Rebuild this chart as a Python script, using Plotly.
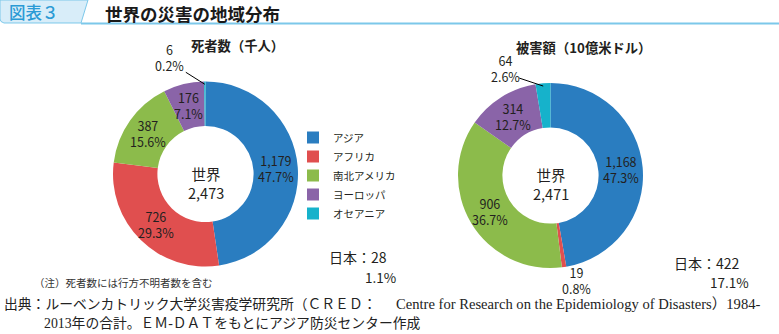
import math
import plotly.graph_objects as go

W, H = 779, 334

# ---------------- data ----------------
regions = ["アジア", "アフリカ", "南北アメリカ", "ヨーロッパ", "オセアニア"]
colors = ["#2A7DC0", "#E04F4F", "#8CBB4B", "#8A64A8", "#16B2CB"]

deaths = [1179, 726, 387, 176, 6]
deaths_pct = [47.7, 29.3, 15.6, 7.1, 0.2]
deaths_total = 2473
deaths_japan = 28
deaths_japan_pct = 1.1

damage = [1168, 19, 906, 314, 64]
damage_pct = [47.3, 0.8, 36.7, 12.7, 2.6]
damage_total = 2471
damage_japan = 422
damage_japan_pct = 17.1

title_main = "世界の災害の地域分布"
title_deaths = "死者数（千人）"
title_damage = "被害額（10億米ドル）"
note = "（注）死者数には行方不明者数を含む"
source1a = "出典：ルーベンカトリック大学災害疫学研究所（ＣＲＥＤ："
source1b = "Centre for Research on the Epidemiology of Disasters）1984-"
source2 = "2013年の合計。ＥＭ-ＤＡＴをもとにアジア防災センター作成"

# ---------------- layout helpers ----------------
FONT = "Noto Sans CJK JP"
SERIF = "Liberation Serif, Noto Sans CJK JP"
TXT = "#231F20"
HOLE = 0.52


def X(px):
    return px / W


def Y(py):
    return 1 - py / H


P1 = dict(cx=205.5, cy=174.0, r=92.5)
P2 = dict(cx=550.5, cy=175.5, r=92.5)


def domain(p):
    return dict(x=[X(p["cx"] - p["r"]), X(p["cx"] + p["r"])],
                y=[Y(p["cy"] + p["r"]), Y(p["cy"] - p["r"])])


fig = go.Figure()
fig.add_trace(go.Pie(labels=regions, values=deaths, hole=HOLE, sort=False,
                     direction="clockwise", rotation=0, textinfo="none",
                     marker=dict(colors=colors, line=dict(width=0)),
                     domain=domain(P1), legend="legend", name="死者数"))
fig.add_trace(go.Pie(labels=regions, values=damage, hole=HOLE, sort=False,
                     direction="clockwise", rotation=0, textinfo="none",
                     marker=dict(colors=colors, line=dict(width=0)),
                     domain=domain(P2), legend="legend2", name="被害額"))

annotations = []
shapes = []


def ann(px, py, text, size, xanchor="center", color=TXT, family=FONT, weight=None, **kw):
    f = dict(family=family, size=size, color=color)
    if weight:
        f["weight"] = weight
    annotations.append(dict(x=X(px), y=Y(py), xref="paper", yref="paper",
                            text=text, showarrow=False, xanchor=xanchor,
                            yanchor="middle", align=xanchor if xanchor != "center" else "center",
                            font=f, **kw))


def slice_labels(values, pcts, p, outside):
    total = sum(values)
    cum = 0.0
    for i, (v, pc) in enumerate(zip(values, pcts)):
        a0 = cum / total * 360
        cum += v
        a1 = cum / total * 360
        mid = math.radians((a0 + a1) / 2)
        text = f"{v:,}<br>{pc:.1f}%"
        if i in outside:
            dx, dy, line = outside[i]
            rr = p["r"] * 0.97
            tx = p["cx"] + rr * math.sin(mid)
            ty = p["cy"] - rr * math.cos(mid)
            lx, ly = tx + dx, ty + dy
            ann(lx, ly, text, 12.5)
            if line:
                sx, sy = line
                shapes.append(dict(type="line", xref="paper", yref="paper",
                                   x0=X(lx + sx), y0=Y(ly + sy), x1=X(tx), y1=Y(ty),
                                   line=dict(color="#000000", width=1)))
        else:
            rl = (p["r"] + HOLE * p["r"]) / 2
            ann(p["cx"] + rl * math.sin(mid), p["cy"] - rl * math.cos(mid),
                text, 12.5)


slice_labels(deaths, deaths_pct, P1, {4: (-35, -27, (16, 15))})
slice_labels(damage, damage_pct, P2, {4: (-38, -18, (14, 10)), 1: (13, 16, None)})

# centre texts
ann(P1["cx"], P1["cy"] + 9, f"世界<br>{deaths_total:,}", 14.5)
ann(P2["cx"], P2["cy"] + 8.5, f"世界<br>{damage_total:,}", 14.5)

# pie titles
ann(237, 46, f"<b>{title_deaths}</b>", 13.3)
ann(583, 47, f"<b>{title_damage}</b>", 13.3)

# Japan
ann(327, 257, f"日本：{deaths_japan}", 14, xanchor="left")
ann(363, 277, f"{deaths_japan_pct:.1f}%", 13.5, xanchor="left")
ann(672, 263, f"日本：{damage_japan}", 14, xanchor="left")
ann(708, 282, f"{damage_japan_pct:.1f}%", 13.5, xanchor="left")

# header
ann(7, 12, "図表３", 16.5, xanchor="left", color="#2A9AD5", weight=500)
ann(103, 13, f"<b>{title_main}</b>", 17.5, xanchor="left", color="#1A1A1A")

# note and source
ann(32, 282, note, 10.5, xanchor="left", color="#333333")
ann(2, 304, source1a, 13.8, xanchor="left", family=SERIF, color="#222222")
ann(762, 304, source1b, 14.6, xanchor="right", family=SERIF, color="#222222")
ann(42, 323, source2, 13.8, xanchor="left", family=SERIF, color="#222222")


def path(points):
    s = "M " + " L ".join(f"{X(a):.5f},{Y(b):.5f}" for a, b in points) + " Z"
    return s


shapes += [
    dict(type="path", xref="paper", yref="paper",
         path=path([(0, 0), (88, 0), (81, 23), (4, 23), (1, 21.5), (0, 19)]),
         fillcolor="#D8EDF9", line=dict(color="#7CC8EA", width=1), layer="below"),
    dict(type="line", xref="paper", yref="paper", x0=X(81), x1=X(779),
         y0=Y(23.5), y1=Y(23.5), line=dict(color="#7CC8EA", width=2)),
]

legend_common = dict(font=dict(family=FONT, size=10.5, color=TXT),
                     bgcolor="rgba(0,0,0,0)", xanchor="left", yanchor="top",
                     tracegroupgap=0, itemclick=False, itemdoubleclick=False)

fig.update_layout(
    width=W, height=H, autosize=False,
    margin=dict(l=0, r=0, t=0, b=0, pad=0),
    paper_bgcolor="white", plot_bgcolor="white",
    showlegend=True,
    legend=dict(x=X(333 - 40), y=Y(135 - 12), **legend_common),
    legend2=dict(x=X(679 - 40), y=Y(138 - 12), **legend_common),
    annotations=annotations, shapes=shapes,
)

fig.write_html("out.html")
